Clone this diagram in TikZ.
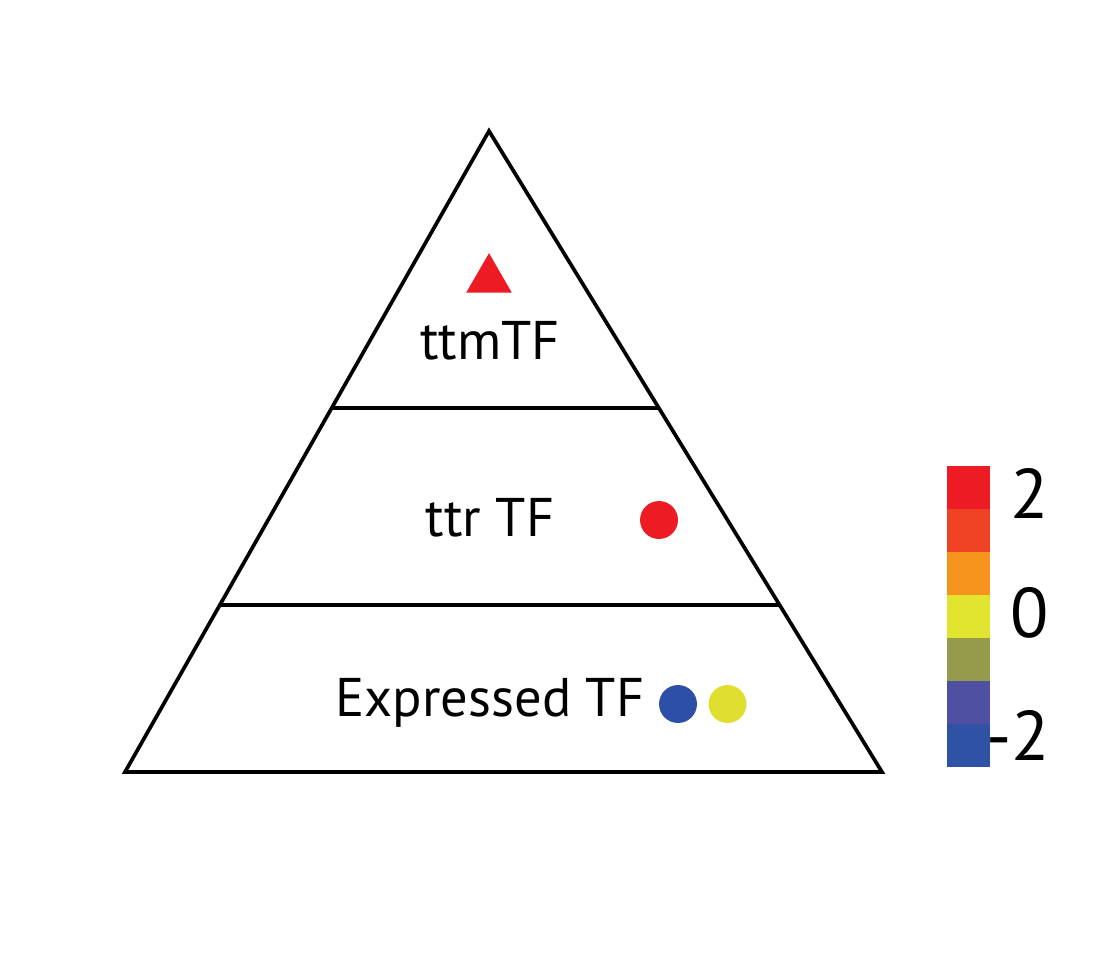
\documentclass[tikz,border=0pt]{standalone}
\usepackage{fontspec}
\setmainfont{PT Sans}
\usetikzlibrary{shapes.geometric}

\definecolor{markred}{HTML}{ED1C24}
\definecolor{markblue}{HTML}{2E4FA8}
\definecolor{markyellow}{HTML}{E0DE2F}
\definecolor{barA}{HTML}{ED1C24}
\definecolor{barB}{HTML}{EF4123}
\definecolor{barC}{HTML}{F7941D}
\definecolor{barD}{HTML}{E2E52F}
\definecolor{barE}{HTML}{969A4B}
\definecolor{barF}{HTML}{5050A2}
\definecolor{barG}{HTML}{2F52A5}

\tikzset{
  level/.style={font=\fontsize{31}{31}\selectfont, anchor=base, inner sep=0pt},
  dot/.style={circle, minimum size=21.6pt, inner sep=0pt},
  tick/.style={font=\fontsize{40}{40}\selectfont, anchor=base east, inner sep=0pt}
}

\begin{document}
\begin{tikzpicture}[x=0.02cm, y=-0.02cm]

\useasboundingbox (0,0) rectangle (1097,958);

% Parameters
\def\lw{2.1pt}            % pyramid line width
\def\barx{947}            % colour bar left edge
\def\bartop{466}          % colour bar top
\def\barh{43}             % height of one colour step

% Pyramid corners
\coordinate (A)  at (489,131);
\coordinate (BL) at (125,772);
\coordinate (BR) at (882,772);

% Level cuts on the two sides
\coordinate (L1) at (331.7,408);
\coordinate (R1) at (658.8,408);
\coordinate (L2) at (219.8,605);
\coordinate (R2) at (779.6,605);

% Outline
\draw[line width=\lw, line join=miter]
  (A) -- (BL) -- (BR) -- cycle;

% Level separators
\draw[line width=\lw] (L1) -- (R1);
\draw[line width=\lw] (L2) -- (R2);

% Level names
\node[level] (ttm) at (490,359) {ttmTF};
\node[level] (ttr) at (490,536) {ttr TF};
\node[level] (expr) at (490,716) {Expressed TF};

% Markers
\node[regular polygon, regular polygon sides=3, fill=markred,
  minimum size=30pt, inner sep=0pt] (ttmmark) at (489,279.5) {};
\node[dot, fill=markred] (ttrdot) at (659,520) {};
\node[dot, fill=markblue] (exprblue) at (678,704) {};
\node[dot, fill=markyellow] (expryellow) at (727.5,704) {};

% Colour bar, top to bottom
\foreach \c [count=\i from 0] in {barA,barB,barC,barD,barE,barF,barG}
  \fill[\c] (\barx,{\bartop+\i*\barh}) rectangle (990,{\bartop+(\i+1)*\barh});

% Colour bar ticks
\node[tick] (hi)  at (1049,518) {2};
\node[tick] (mid) at (1049,637) {0};
\node[tick] (lo)  at (1050,760) {-2};

\end{tikzpicture}
\end{document}
